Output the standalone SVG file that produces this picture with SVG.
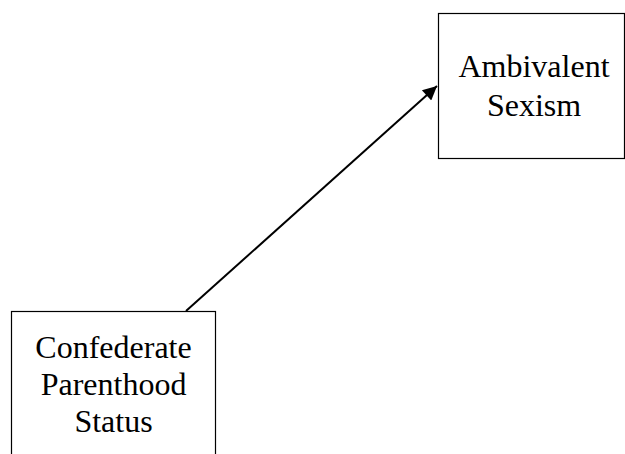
<svg xmlns="http://www.w3.org/2000/svg" width="625" height="454" viewBox="0 0 625 454">
  <style>
    .box { fill: #ffffff; stroke: #000000; stroke-width: 1.2; }
    .label { font-family: "Liberation Serif", "Times New Roman", serif; font-size: 32px; fill: #000000; text-anchor: middle; }
    .edge { stroke: #000000; stroke-width: 2; fill: none; }
  </style>
  <defs>
    <marker id="arrowhead" viewBox="0 0 10 10" refX="10" refY="5" markerWidth="8" markerHeight="7" markerUnits="strokeWidth" orient="auto">
      <path d="M0,0 L10,5 L0,10 z" fill="#000000"/>
    </marker>
  </defs>
  <rect width="625" height="454" fill="#ffffff"/>

  <g id="node-ambivalent-sexism">
    <rect class="box" x="438.5" y="13.5" width="186" height="145"/>
    <text class="label" x="534" y="77">Ambivalent</text>
    <text class="label" x="534" y="116">Sexism</text>
  </g>

  <g id="node-confederate-parenthood">
    <rect class="box" x="11.5" y="311.5" width="204" height="160"/>
    <text class="label" x="113.5" y="358">Confederate</text>
    <text class="label" x="113.5" y="395">Parenthood</text>
    <text class="label" x="113.5" y="432">Status</text>
  </g>

  <g id="connectors">
    <line class="edge" x1="186" y1="311" x2="437" y2="86" marker-end="url(#arrowhead)"/>
  </g>
</svg>
